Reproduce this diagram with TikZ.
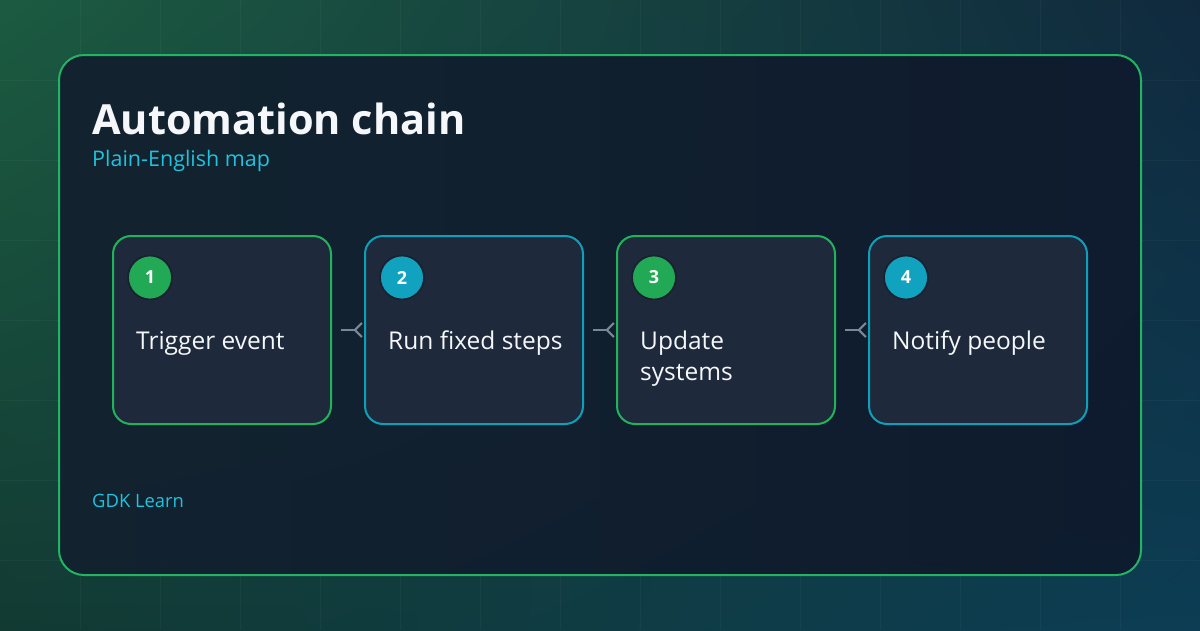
\documentclass[tikz,border=0pt]{standalone}
\usepackage{fontspec}
\setmainfont{Open Sans}
\usetikzlibrary{arrows.meta,shadings}
\definecolor{bgUL}{HTML}{1C5B41}
\definecolor{bgUR}{HTML}{10293E}
\definecolor{bgLL}{HTML}{123A33}
\definecolor{bgLR}{HTML}{0C3D54}
\definecolor{cardL}{HTML}{12222F}
\definecolor{cardR}{HTML}{0F1B2E}
\definecolor{cardB}{HTML}{23B463}
\definecolor{boxF}{HTML}{1E2A3C}
\definecolor{grnB}{HTML}{22B35A}
\definecolor{cyaB}{HTML}{0F9FB8}
\definecolor{grnC}{HTML}{21A955}
\definecolor{cyaC}{HTML}{11A2BF}
\definecolor{circO}{HTML}{1A2130}
\definecolor{conn}{HTML}{7A8896}
\definecolor{titleC}{HTML}{F5F7FA}
\definecolor{subC}{HTML}{20C2DD}
\tikzset{
  stepbox/.style={draw=#1, line width=2pt, fill=boxF, rounded corners=18pt,
    minimum width=218pt, minimum height=188pt, inner sep=0pt},
  numdot/.style={circle, fill=#1, draw=circO, line width=1.8pt, minimum size=44pt,
    inner sep=0pt, text=white, font=\fontsize{18}{20}\selectfont\bfseries},
  steptext/.style={anchor=base west, align=left, text=titleC, inner sep=0pt,
    font=\fontsize{24.5}{31}\selectfont},
  link/.style={draw=conn, line width=2.6pt, shorten <=9pt, shorten >=1pt,
    -{Straight Barb[reversed, length=7pt, width=14pt, line width=2.2pt]}},
}
\begin{document}
\begin{tikzpicture}[x=1pt,y=-1pt]
\useasboundingbox (0,0) rectangle (1200,630);
% background
\shade[shading=bilinear interpolation, upper left=bgUL, upper right=bgUR, lower left=bgLL, lower right=bgLR] (0,0) rectangle (1200,630);
\foreach \i in {80,160,...,1160} \draw[white, opacity=0.035, line width=0.8pt] (\i,0) -- (\i,630);
\foreach \j in {80,160,...,560} \draw[white, opacity=0.035, line width=0.8pt] (0,\j) -- (1200,\j);
% card
\shade[rounded corners=25pt, left color=cardL, right color=cardR, opacity=0.97] (59,55) rectangle (1141,575);
\draw[cardB, line width=2pt, rounded corners=25pt] (59,55) rectangle (1141,575);
% title
\node[anchor=base west, inner sep=0pt, text=titleC, font=\fontsize{41.5}{48}\selectfont\bfseries] (title) at (92,134) {Automation chain};
\node[anchor=base west, inner sep=0pt, text=subC, font=\fontsize{21.5}{24}\selectfont] (sub) at (92,166) {Plain-English map};
\node[anchor=base west, inner sep=0pt, text=subC, font=\fontsize{18.4}{20}\selectfont] (brand) at (92,507) {GDK Learn};
% boxes
\node[stepbox=grnB] (b1) at (222,330) {};
\node[stepbox=cyaB] (b2) at (474,330) {};
\node[stepbox=grnB] (b3) at (726,330) {};
\node[stepbox=cyaB] (b4) at (978,330) {};
\node[numdot=grnC] (n1) at (150,277.5) {1};
\node[numdot=cyaC] (n2) at (402,277.5) {2};
\node[numdot=grnC] (n3) at (654,277.5) {3};
\node[numdot=cyaC] (n4) at (906,277.5) {4};
\node[steptext] (t1) at (136,349) {Trigger event};
\node[steptext] (t2) at (388,349) {Run fixed steps};
\node[steptext] (t3) at (640,380) {Update\\systems};
\node[steptext] (t4) at (892,349) {Notify people};
% connectors
\draw[link] (b1.east) -- (b2.west);
\draw[link] (b2.east) -- (b3.west);
\draw[link] (b3.east) -- (b4.west);
\end{tikzpicture}
\end{document}
